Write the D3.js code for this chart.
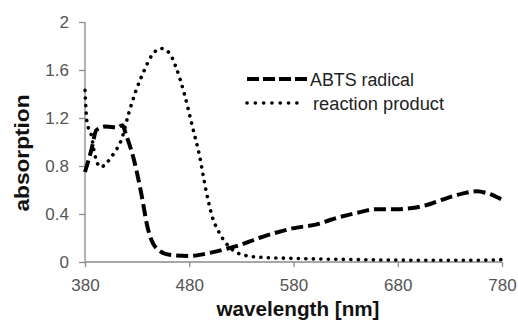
<!DOCTYPE html>
<html>
<head>
<meta charset="utf-8">
<script src="https://cdn.jsdelivr.net/npm/d3@7"></script>
<style>
  body { margin: 0; background: #fff; }
  svg { font-family: "Liberation Sans", Arial, sans-serif; }
</style>
</head>
<body>
<svg id="chart" width="518" height="320"></svg>
<script>
// wavelength [nm] / absorption
const abtsWl  = [380, 386, 391, 400, 411, 416, 419, 427, 434, 440, 448, 461, 480, 499, 516, 528, 547, 579, 605, 615, 641, 660, 679, 694, 708, 723, 742, 756, 765, 780];
const abtsAbs = [0.75, 0.93, 1.1, 1.13, 1.12, 1.14, 1.07, 0.85, 0.57, 0.29, 0.12, 0.06, 0.05, 0.075, 0.11, 0.14, 0.2, 0.28, 0.32, 0.35, 0.41, 0.44, 0.44, 0.45, 0.475, 0.52, 0.57, 0.59, 0.575, 0.52];

const prodWl  = [380, 382, 386, 389, 395, 400, 408, 415, 422, 429, 437, 444, 453, 461, 467, 475, 483, 490, 496, 502, 509, 515, 531, 547, 580, 640, 700, 760, 780];
const prodAbs = [1.43, 1.16, 1.06, 0.91, 0.79, 0.82, 0.91, 1.02, 1.24, 1.43, 1.6, 1.72, 1.78, 1.74, 1.63, 1.41, 1.13, 0.88, 0.6, 0.38, 0.24, 0.16, 0.06, 0.04, 0.03, 0.02, 0.015, 0.015, 0.02];

const xTicks = [380, 480, 580, 680, 780];
const yTicks = [0, 0.4, 0.8, 1.2, 1.6, 2];
const seriesNames = ["ABTS radical", "reaction product"];

const svg = d3.select("#chart");
const x = d3.scaleLinear().domain([380, 780]).range([85, 502]);
const y = d3.scaleLinear().domain([0, 2]).range([262, 22]);

const axisColor = "#8a8a8a";
const labelColor = "#555";

// y axis
const yAxis = svg.append("g")
  .attr("transform", "translate(85,0)")
  .call(d3.axisLeft(y).tickValues(yTicks).tickSize(6).tickPadding(10)
    .tickFormat(d => d));
// x axis
const xAxis = svg.append("g")
  .attr("transform", "translate(0,262)")
  .call(d3.axisBottom(x).tickValues(xTicks).tickSize(5).tickPadding(12));

[xAxis, yAxis].forEach(a => {
  a.select(".domain").attr("stroke", axisColor).attr("stroke-width", 1.3);
  a.selectAll(".tick line").attr("stroke", axisColor).attr("stroke-width", 1.3);
  a.selectAll(".tick text").attr("fill", labelColor)
    .style("font-size", "17px").style("font-family", "Liberation Sans, Arial, sans-serif");
});
yAxis.select(".domain").attr("d", "M0,262V22");
xAxis.select(".domain").attr("d", "M85,0H502");

const line = d3.line().curve(d3.curveMonotoneX)
  .x(d => x(d[0])).y(d => y(d[1]));

svg.append("path")
  .datum(d3.zip(prodWl, prodAbs))
  .attr("d", line)
  .attr("fill", "none")
  .attr("stroke", "#000")
  .attr("stroke-width", 3.6)
  .attr("stroke-linecap", "round")
  .attr("stroke-dasharray", "0.1 7.4");

svg.append("path")
  .datum(d3.zip(abtsWl, abtsAbs))
  .attr("d", line)
  .attr("fill", "none")
  .attr("stroke", "#000")
  .attr("stroke-width", 4)
  .attr("stroke-dasharray", "12 5");

// legend
const legend = svg.append("g").attr("transform", "translate(247,79)");
const styles = [
  { w: 4, dash: "12 4", cap: "butt" },
  { w: 3.6, dash: "0.1 8.2", cap: "round" }
];
seriesNames.forEach((name, i) => {
  const g = legend.append("g").attr("transform", `translate(0,${i * 24})`);
  g.append("line")
    .attr("x1", 0).attr("x2", i === 0 ? 61 : 58).attr("y1", 0).attr("y2", 0)
    .attr("stroke", "#000")
    .attr("stroke-width", styles[i].w)
    .attr("stroke-linecap", styles[i].cap)
    .attr("stroke-dasharray", styles[i].dash);
  g.append("text")
    .attr("x", i === 0 ? 63 : 66)
    .attr("y", 6.5)
    .attr("fill", "#222")
    .style("font-size", "18px")
    .attr("textLength", i === 0 ? 104 : 131)
    .attr("lengthAdjust", "spacingAndGlyphs")
    .text(name);
});

// axis titles
svg.append("text")
  .attr("x", 298).attr("y", 316)
  .attr("text-anchor", "middle")
  .style("font-size", "20px").style("font-weight", "bold")
  .attr("textLength", 163)
  .attr("lengthAdjust", "spacingAndGlyphs")
  .attr("fill", "#111")
  .text("wavelength [nm]");

svg.append("text")
  .attr("transform", "translate(29,153) rotate(-90)")
  .attr("text-anchor", "middle")
  .style("font-size", "20px").style("font-weight", "bold")
  .attr("textLength", 117)
  .attr("lengthAdjust", "spacingAndGlyphs")
  .attr("fill", "#111")
  .text("absorption");
</script>
</body>
</html>
